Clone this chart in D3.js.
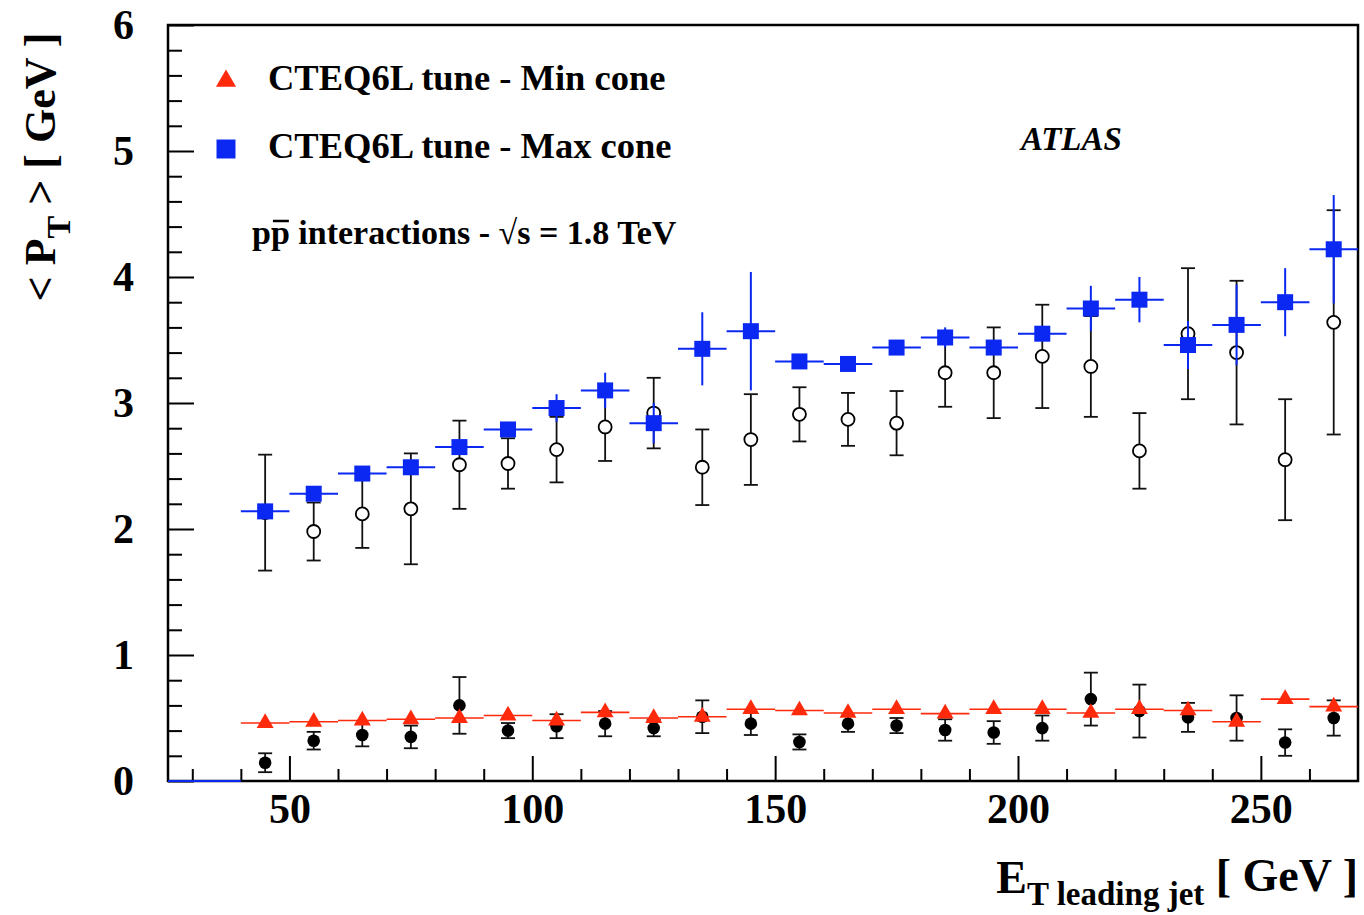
<!DOCTYPE html>
<html>
<head>
<meta charset="utf-8">
<script src="https://cdn.jsdelivr.net/npm/d3@7"></script>
<style>
  body { margin: 0; background: #fff; }
  text { font-family: "Liberation Serif", "Times New Roman", serif; font-weight: bold; }
</style>
</head>
<body>
<div id="chart"></div>
<script>
// <pT> vs leading jet ET, data vs CTEQ6L tune (min / max cone)

// bin centres of the leading jet ET histograms (10 GeV bins)
const etBins = [45, 55, 65, 75, 85, 95, 105, 115, 125, 135, 145, 155,
                165, 175, 185, 195, 205, 215, 225, 235, 245, 255, 265];
const binWidth = 10;
// empty MC bins drawn at zero before the first filled bin
const emptyRange = [25, 40];

// data, max cone (open circles)
const dataMax = [2.13, 1.98, 2.12, 2.16, 2.51, 2.52, 2.63, 2.81, 2.92, 2.49, 2.71, 2.91,
                 2.87, 2.84, 3.24, 3.24, 3.37, 3.29, 2.62, 3.55, 3.40, 2.55, 3.64];
const dataMaxErr = [0.46, 0.23, 0.27, 0.44, 0.35, 0.20, 0.26, 0.27, 0.28, 0.30, 0.36, 0.215,
                    0.21, 0.255, 0.27, 0.36, 0.41, 0.40, 0.30, 0.52, 0.57, 0.48, 0.89];

// data, min cone (filled circles)
const dataMin = [0.145, 0.32, 0.365, 0.35, 0.60, 0.40, 0.435, 0.455, 0.42, 0.51, 0.455, 0.31,
                 0.455, 0.44, 0.405, 0.385, 0.42, 0.65, 0.555, 0.505, 0.50, 0.305, 0.50];
const dataMinErr = [0.075, 0.07, 0.09, 0.09, 0.225, 0.06, 0.095, 0.10, 0.065, 0.13, 0.09, 0.06,
                    0.065, 0.06, 0.085, 0.09, 0.10, 0.21, 0.21, 0.115, 0.18, 0.105, 0.14];

// CTEQ6L tune - max cone
const mcMax = [2.14, 2.28, 2.44, 2.49, 2.65, 2.79, 2.96, 3.10, 2.84, 3.43, 3.57, 3.33,
               3.31, 3.44, 3.52, 3.44, 3.55, 3.75, 3.82, 3.46, 3.62, 3.80, 4.22];
const mcMaxErr = [0.05, 0.03, 0.03, 0.04, 0.05, 0.05, 0.11, 0.14, 0.16, 0.29, 0.47, 0.04,
                  0.03, 0.05, 0.08, 0.05, 0.05, 0.18, 0.18, 0.19, 0.32, 0.27, 0.43];

// CTEQ6L tune - min cone
const mcMin = [0.46, 0.47, 0.48, 0.49, 0.50, 0.52, 0.48, 0.545, 0.50, 0.51, 0.57, 0.56,
               0.54, 0.57, 0.535, 0.57, 0.57, 0.54, 0.57, 0.56, 0.47, 0.65, 0.59];
const mcMinErr = [0.02, 0.02, 0.02, 0.02, 0.02, 0.02, 0.02, 0.02, 0.02, 0.02, 0.02, 0.02,
                  0.02, 0.02, 0.02, 0.02, 0.02, 0.03, 0.03, 0.03, 0.03, 0.03, 0.04];

const xMajorTicks = [50, 100, 150, 200, 250];
const yMajorTicks = [0, 1, 2, 3, 4, 5, 6];

const legendLabels = ["CTEQ6L tune - Min cone", "CTEQ6L tune - Max cone"];

const RED = "#ff2a0c";
const BLUE = "#0a28f2";

let w = 1364, h = 915;
let svg = d3.select("#chart").append("svg")
    .attr("width", w)
    .attr("height", h);

let xScale = d3.scaleLinear().domain([25, 270]).range([168, 1358]);
let yScale = d3.scaleLinear().domain([0, 6]).range([781, 25]);

function rows(vals, errs) {
    return etBins.map(function(c, i) { return {x: c, v: vals[i], e: errs[i]}; });
}

// ---- axes (ticks point into the frame) ----
let yMinor = d3.range(0, 6.001, 0.2).map(function(d) { return +d.toFixed(1); })
    .filter(function(d) { return yMajorTicks.indexOf(d) < 0; });
svg.append("g")
    .attr("transform", "translate(168,0)")
    .call(d3.axisLeft(yScale).tickValues(yMinor).tickSize(-14).tickFormat(""));
svg.append("g")
    .attr("class", "yaxis")
    .attr("transform", "translate(168,0)")
    .call(d3.axisLeft(yScale).tickValues(yMajorTicks).tickSize(-26).tickPadding(34).tickFormat(d3.format("d")));

let xMinor = d3.range(30, 265, 10).filter(function(d) { return xMajorTicks.indexOf(d) < 0; });
svg.append("g")
    .attr("transform", "translate(0,781)")
    .call(d3.axisBottom(xScale).tickValues(xMinor).tickSize(-12).tickFormat(""));
svg.append("g")
    .attr("class", "xaxis")
    .attr("transform", "translate(0,781)")
    .call(d3.axisBottom(xScale).tickValues(xMajorTicks).tickSize(-25).tickPadding(12).tickFormat(d3.format("d")));

svg.selectAll(".domain").remove();
svg.selectAll(".tick line").attr("stroke", "#000").attr("stroke-width", 2);
svg.selectAll(".yaxis text").style("font-size", "42px").attr("fill", "#000");
svg.selectAll(".xaxis text").style("font-size", "42px").attr("fill", "#000");

// frame
svg.append("rect")
    .attr("x", 168).attr("y", 25)
    .attr("width", 1358 - 168).attr("height", 781 - 25)
    .attr("fill", "none")
    .attr("stroke", "#000")
    .attr("stroke-width", 2.5);

// ---- error bar helper ----
function drawErrors(g, data, color, cap, width) {
    g.selectAll(null).data(data).enter().append("line")
        .attr("x1", function(d) { return xScale(d.x); })
        .attr("x2", function(d) { return xScale(d.x); })
        .attr("y1", function(d) { return yScale(d.v + d.e); })
        .attr("y2", function(d) { return yScale(d.v - d.e); })
        .attr("stroke", color)
        .attr("stroke-width", width);
    if (cap > 0) {
        [1, -1].forEach(function(s) {
            g.selectAll(null).data(data).enter().append("line")
                .attr("x1", function(d) { return xScale(d.x) - cap; })
                .attr("x2", function(d) { return xScale(d.x) + cap; })
                .attr("y1", function(d) { return yScale(d.v + s * d.e); })
                .attr("y2", function(d) { return yScale(d.v + s * d.e); })
                .attr("stroke", color)
                .attr("stroke-width", width);
        });
    }
}

function drawBinBars(g, data, color, width) {
    g.selectAll(null).data(data).enter().append("line")
        .attr("x1", function(d) { return xScale(d.x - binWidth / 2); })
        .attr("x2", function(d) { return xScale(d.x + binWidth / 2); })
        .attr("y1", function(d) { return yScale(d.v); })
        .attr("y2", function(d) { return yScale(d.v); })
        .attr("stroke", color)
        .attr("stroke-width", width);
}

let plot = svg.append("g");

// data min cone - filled circles
let gDataMin = plot.append("g");
let dMin = rows(dataMin, dataMinErr);
drawErrors(gDataMin, dMin, "#111", 7, 1.8);
gDataMin.selectAll("circle").data(dMin).enter().append("circle")
    .attr("cx", function(d) { return xScale(d.x); })
    .attr("cy", function(d) { return yScale(d.v); })
    .attr("r", 6.3)
    .attr("fill", "#000");

// MC min cone - red triangles
let gMcMin = plot.append("g");
let mMin = rows(mcMin, mcMinErr);
drawBinBars(gMcMin, mMin, RED, 1.6);
drawErrors(gMcMin, mMin, RED, 0, 1.6);
gMcMin.selectAll("path").data(mMin).enter().append("path")
    .attr("d", d3.symbol(d3.symbolTriangle, 125))
    .attr("transform", function(d) { return "translate(" + xScale(d.x) + "," + yScale(d.v) + ")"; })
    .attr("fill", RED);

// data max cone - open circles
let gDataMax = plot.append("g");
let dMax = rows(dataMax, dataMaxErr);
drawErrors(gDataMax, dMax, "#111", 7, 1.8);
gDataMax.selectAll("circle").data(dMax).enter().append("circle")
    .attr("cx", function(d) { return xScale(d.x); })
    .attr("cy", function(d) { return yScale(d.v); })
    .attr("r", 6.5)
    .attr("fill", "#fff")
    .attr("stroke", "#000")
    .attr("stroke-width", 1.8);

// MC max cone - blue squares
let gMcMax = plot.append("g");
let mMax = rows(mcMax, mcMaxErr);
gMcMax.append("line")
    .attr("x1", xScale(emptyRange[0])).attr("x2", xScale(emptyRange[1]))
    .attr("y1", yScale(0)).attr("y2", yScale(0))
    .attr("stroke", BLUE).attr("stroke-width", 2);
drawBinBars(gMcMax, mMax, BLUE, 2);
drawErrors(gMcMax, mMax, BLUE, 0, 2);
gMcMax.selectAll("path").data(mMax).enter().append("path")
    .attr("d", d3.symbol(d3.symbolSquare, 256))
    .attr("transform", function(d) { return "translate(" + xScale(d.x) + "," + yScale(d.v) + ")"; })
    .attr("fill", BLUE);

// ---- legend ----
let legend = svg.append("g");
legend.append("path")
    .attr("d", d3.symbol(d3.symbolTriangle, 175))
    .attr("transform", "translate(226,81)")
    .attr("fill", RED);
legend.append("path")
    .attr("d", d3.symbol(d3.symbolSquare, 360))
    .attr("transform", "translate(226,149)")
    .attr("fill", BLUE);
legend.selectAll("text.lbl").data(legendLabels).enter().append("text")
    .attr("class", "lbl")
    .attr("x", 268)
    .attr("y", function(d, i) { return 90 + i * 68; })
    .style("font-size", "36.5px")
    .text(function(d) { return d; });

// p pbar line
let info = svg.append("text")
    .attr("x", 252).attr("y", 244)
    .style("font-size", "34px");
info.append("tspan").text("p");
info.append("tspan").text("p");
info.append("tspan").text(" interactions - \u221As = 1.8 TeV");
let pNode = info.node();
let pStart = pNode.getStartPositionOfChar(1).x;
let pEnd = pNode.getEndPositionOfChar(1).x;
svg.append("line")
    .attr("x1", pStart + 2).attr("x2", pEnd - 1)
    .attr("y1", 221).attr("y2", 221)
    .attr("stroke", "#000").attr("stroke-width", 2.5);

svg.append("text")
    .attr("x", 1021).attr("y", 150)
    .style("font-size", "33px")
    .style("font-style", "italic")
    .text("ATLAS");

// ---- axis titles ----
let yTitle = svg.append("text")
    .attr("transform", "translate(55,167) rotate(-90)")
    .attr("text-anchor", "middle")
    .style("font-size", "44px");
yTitle.append("tspan").text("< P");
yTitle.append("tspan").attr("dy", 15).style("font-size", "34px").text("T");
yTitle.append("tspan").attr("dy", -15).text(" > [ GeV ]");

let xTitle = svg.append("text")
    .attr("x", 1358).attr("y", 893)
    .attr("text-anchor", "end")
    .style("font-size", "46px");
xTitle.append("tspan").text("E");
xTitle.append("tspan").attr("dy", 12).style("font-size", "33px").text("T leading jet");
xTitle.append("tspan").attr("dy", -14).text(" [ GeV ]");
</script>
</body>
</html>
